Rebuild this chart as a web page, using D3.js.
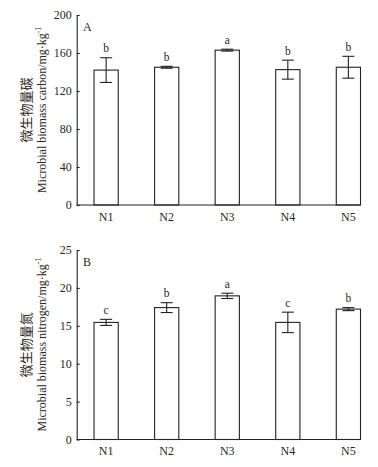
<!DOCTYPE html>
<html>
<head>
<meta charset="utf-8">
<script src="https://cdn.jsdelivr.net/npm/d3@7"></script>
<style>
  body { margin: 0; background: #fff; }
  svg { display: block; }
  text { font-family: "Liberation Serif", "Times New Roman", serif; fill: #2b2622; }
</style>
</head>
<body>
<div id="chart-area"></div>
<script>
// treatments
var groups = ["N1", "N2", "N3", "N4", "N5"];

// A - microbial biomass carbon
var carbonMean = [142, 145, 163, 142.5, 145];
var carbonErr = [13, 1, 1, 10, 11.5];
var carbonSig = ["b", "b", "a", "b", "b"];
var carbonTicks = [0, 40, 80, 120, 160, 200];

// B - microbial biomass nitrogen
var nitrogenMean = [15.45, 17.4, 18.95, 15.45, 17.2];
var nitrogenErr = [0.4, 0.65, 0.35, 1.35, 0.2];
var nitrogenSig = ["c", "b", "a", "c", "b"];
var nitrogenTicks = [0, 5, 10, 15, 20, 25];

var serif = "'Liberation Serif', 'Times New Roman', serif";

var svg = d3.select("#chart-area")
    .append("svg")
        .attr("width", 378)
        .attr("height", 467);

var x = d3.scaleBand()
    .domain(groups)
    .range([76.7, 360.5])
    .paddingInner(0.6)
    .paddingOuter(0.143)
    .align(1);

function drawPanel(opts) {
    var y = d3.scaleLinear()
        .domain([0, opts.max])
        .range([opts.bottom, opts.top]);

    var data = groups.map(function(g, i) {
        return { name: g, mean: opts.mean[i], err: opts.err[i], sig: opts.sig[i] };
    });

    var g = svg.append("g");

    // bars
    g.selectAll("rect.bar")
        .data(data)
        .enter()
        .append("rect")
            .attr("class", "bar")
            .attr("x", function(d) { return x(d.name); })
            .attr("y", function(d) { return y(d.mean); })
            .attr("width", x.bandwidth())
            .attr("height", function(d) { return y(0) - y(d.mean); })
            .attr("fill", "#fff")
            .attr("stroke", "#222")
            .attr("stroke-width", 1.1);

    // error bars
    var cx = function(d) { return x(d.name) + x.bandwidth() / 2; };
    var eb = g.selectAll("g.err")
        .data(data)
        .enter()
        .append("g")
            .attr("class", "err")
            .attr("stroke", "#222")
            .attr("stroke-width", 1.1);
    eb.append("line")
        .attr("x1", cx).attr("x2", cx)
        .attr("y1", function(d) { return y(d.mean + d.err); })
        .attr("y2", function(d) { return y(d.mean - d.err); });
    eb.append("line")
        .attr("x1", function(d) { return cx(d) - 6; })
        .attr("x2", function(d) { return cx(d) + 6; })
        .attr("y1", function(d) { return y(d.mean + d.err); })
        .attr("y2", function(d) { return y(d.mean + d.err); });
    eb.append("line")
        .attr("x1", function(d) { return cx(d) - 6; })
        .attr("x2", function(d) { return cx(d) + 6; })
        .attr("y1", function(d) { return y(d.mean - d.err); })
        .attr("y2", function(d) { return y(d.mean - d.err); });

    // significance letters
    g.selectAll("text.sig")
        .data(data)
        .enter()
        .append("text")
            .attr("class", "sig")
            .attr("x", cx)
            .attr("y", function(d) { return y(d.mean + d.err) - 5.5; })
            .attr("text-anchor", "middle")
            .style("font-family", serif)
            .attr("font-size", 11.5)
            .text(function(d) { return d.sig; });

    // y axis, ticks pointing inward
    var yAxis = d3.axisLeft(y)
        .tickValues(opts.ticks)
        .tickSize(-3)
        .tickSizeOuter(0)
        .tickPadding(5);
    var ya = g.append("g")
        .attr("transform", "translate(" + 76.7 + ",0)")
        .call(yAxis);
    ya.selectAll("text")
        .style("font-family", serif)
        .attr("font-size", 12)
        .attr("fill", "#2b2622");
    ya.selectAll("line, path").attr("stroke", "#222").attr("stroke-width", 1.1);

    // x axis
    var xAxis = d3.axisBottom(x)
        .tickSize(0)
        .tickPadding(7);
    var xa = g.append("g")
        .attr("transform", "translate(0," + opts.bottom + ")")
        .call(xAxis);
    xa.select(".domain")
        .attr("d", "M76.7,0H360.5")
        .attr("stroke", "#222")
        .attr("stroke-width", 1.1);
    xa.selectAll("text")
        .style("font-family", serif)
        .attr("font-size", 12)
        .attr("fill", "#2b2b33");

    // panel letter
    g.append("text")
        .attr("x", 83)
        .attr("y", opts.top + 16)
        .style("font-family", serif)
        .attr("font-size", 12)
        .text(opts.label);

    // y title, two lines
    var mid = (opts.top + opts.bottom) / 2;
    g.append("text")
        .attr("transform", "translate(25," + mid + ") rotate(-90)")
        .attr("text-anchor", "middle")
        .attr("dominant-baseline", "central")
        .style("font-family", "'Noto Sans CJK SC', sans-serif")
        .attr("font-size", 13)
        .attr("fill", "#4a3a2e")
        .text(opts.zh);
    var en = g.append("text")
        .attr("transform", "translate(42," + mid + ") rotate(-90)")
        .attr("text-anchor", "middle")
        .attr("dominant-baseline", "central")
        .style("font-family", serif)
        .attr("font-size", 12)
        .attr("fill", "#1e1c1c");
    en.append("tspan").text(opts.en);
    en.append("tspan")
        .attr("font-size", 7.5)
        .attr("dy", -4)
        .text("-1");
}

drawPanel({
    top: 15, bottom: 205, max: 200,
    mean: carbonMean, err: carbonErr, sig: carbonSig, ticks: carbonTicks,
    label: "A",
    zh: "微生物量碳",
    en: "Microbial biomass carbon/mg\u00b7kg"
});

drawPanel({
    top: 250, bottom: 439.5, max: 25,
    mean: nitrogenMean, err: nitrogenErr, sig: nitrogenSig, ticks: nitrogenTicks,
    label: "B",
    zh: "微生物量氮",
    en: "Microbial biomass nitrogen/mg\u00b7kg"
});
</script>
</body>
</html>
